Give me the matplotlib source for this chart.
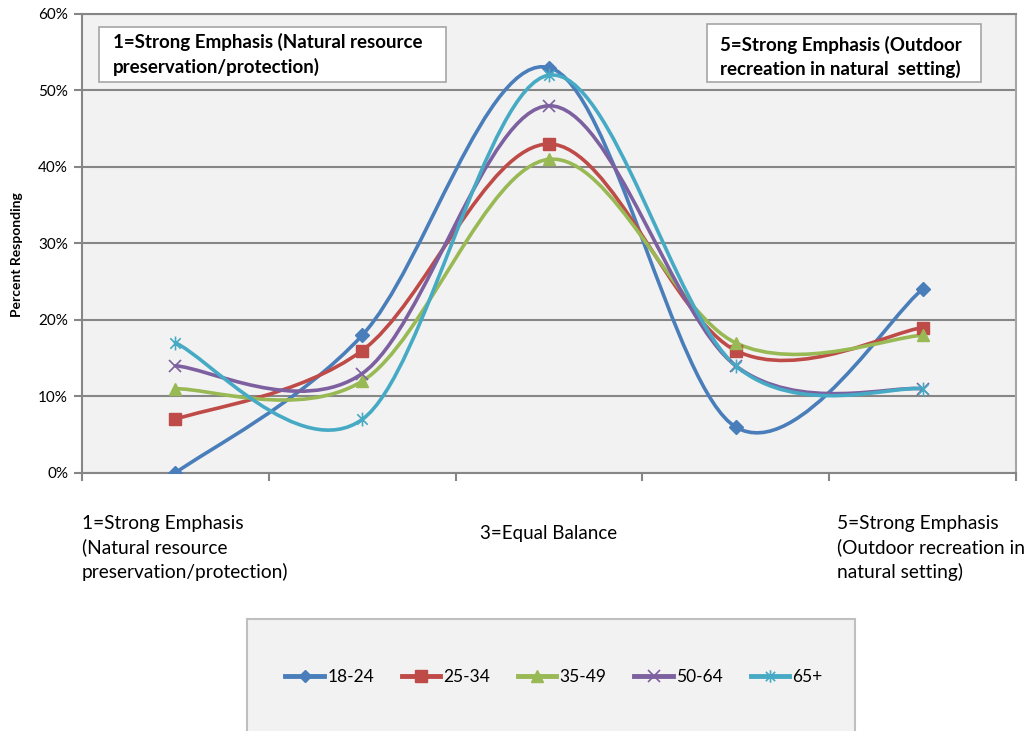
import matplotlib
matplotlib.use('Agg')
import matplotlib.pyplot as plt
from matplotlib.path import Path
from matplotlib.patches import PathPatch, Rectangle
from matplotlib.lines import Line2D
import numpy as np

plt.rcParams['font.family'] = ['Lato', 'DejaVu Sans']

categories = [1, 2, 3, 4, 5]
cat_labels = {
    1: "1=Strong Emphasis\n(Natural resource\npreservation/protection)",
    3: "3=Equal Balance",
    5: "5=Strong Emphasis\n(Outdoor recreation in\nnatural setting)",
}
groups = ["18-24", "25-34", "35-49", "50-64", "65+"]
pct_18_24 = [0, 18, 53, 6, 24]
pct_25_34 = [7, 16, 43, 16, 19]
pct_35_49 = [11, 12, 41, 17, 18]
pct_50_64 = [14, 13, 48, 14, 11]
pct_65_up = [17, 7, 52, 14, 11]

colors = ["#4A7EBB", "#BE4B48", "#98B954", "#7D60A0", "#46AAC5"]

# asterisk marker: vertical bar plus an X
star = Path([(0, -1), (0, 1), (-0.75, -0.75), (0.75, 0.75), (-0.75, 0.75), (0.75, -0.75)],
            [Path.MOVETO, Path.LINETO, Path.MOVETO, Path.LINETO, Path.MOVETO, Path.LINETO])
markers = [("D", 7), ("s", 9), ("^", 9), ("x", 9), (star, 10)]


def smooth_path(x, y):
    # Bezier smoothing like spreadsheet "smoothed line" charts
    x = np.asarray(x, float)
    y = np.asarray(y, float) / 100.0
    n = len(x)
    verts = [(x[0], y[0])]
    codes = [Path.MOVETO]
    for i in range(n - 1):
        i0 = max(i - 1, 0)
        i3 = min(i + 2, n - 1)
        c1 = (x[i] + (x[i + 1] - x[i0]) / 6, y[i] + (y[i + 1] - y[i0]) / 6)
        c2 = (x[i + 1] - (x[i3] - x[i]) / 6, y[i + 1] - (y[i3] - y[i]) / 6)
        verts += [c1, c2, (x[i + 1], y[i + 1])]
        codes += [Path.CURVE4] * 3
    return Path(verts, codes)


fig = plt.figure(figsize=(10.29, 7.31), dpi=100)
ax = fig.add_axes([0.0797, 0.3530, 0.9077, 0.6279])
ax.set_facecolor("#F2F2F2")

series = [pct_18_24, pct_25_34, pct_35_49, pct_50_64, pct_65_up]
handles = []
for vals, name, col, (mk, ms) in zip(series, groups, colors, markers):
    patch = PathPatch(smooth_path(categories, vals), facecolor="none", edgecolor=col,
                      lw=2.6, zorder=3, capstyle="round")
    ax.add_patch(patch)
    mew = 1.2 if mk in ("x",) or mk is star else 1
    ax.plot(categories, np.array(vals) / 100.0, ls="none", marker=mk, ms=ms, color=col,
            mec=col, mew=mew, zorder=4)
    handles.append(Line2D([], [], color=col, lw=3.5, marker=mk, ms=ms - 1, mec=col, mew=mew))

ax.set_xlim(0.5, 5.5)
ax.set_ylim(0, 0.6)
ax.set_yticks(np.arange(0, 0.61, 0.1))
ax.set_yticklabels([f"{int(round(v * 100))}%" for v in np.arange(0, 0.61, 0.1)], fontsize=11)
ax.set_xticks(np.arange(0.5, 5.6, 1))
ax.set_xticklabels([])
ax.tick_params(axis="both", direction="out", length=6, width=1.5, color="#868686", pad=4)
ax.yaxis.grid(True, color="#868686", lw=1.5)
ax.set_axisbelow(True)
for side in ["left", "bottom", "top"]:
    ax.spines[side].set_color("#868686")
    ax.spines[side].set_linewidth(1.5)
ax.spines["right"].set_color("#A6A6A6")
ax.spines["right"].set_linewidth(1.5)

ax.set_ylabel("Percent Responding", fontsize=10, fontweight="bold")
ax.yaxis.set_label_coords(-0.063, 0.475)

# category labels under the axis
tr = matplotlib.transforms.blended_transform_factory(ax.transData, ax.transAxes)
ax.text(0.5, -0.091, cat_labels[1], transform=tr, ha="left", va="top", fontsize=13.8,
        linespacing=1.45)
ax.text(3, -0.131, cat_labels[3], transform=tr, ha="center", va="center", fontsize=13.5)
ax.text(4.54, -0.091, cat_labels[5], transform=tr, ha="left", va="top", fontsize=13.8,
        linespacing=1.45)

# explanatory boxes inside the plot
ax.add_patch(Rectangle((0.0182, 0.8519), 0.3715, 0.1198, transform=ax.transAxes,
                       facecolor="white", edgecolor="#A6A6A6", lw=1.2, zorder=5))
ax.text(0.0332, 0.9118, "1=Strong Emphasis (Natural resource\npreservation/protection)",
        transform=ax.transAxes, ha="left", va="center", fontsize=13.5, fontweight="bold",
        linespacing=1.4, zorder=6)
ax.add_patch(Rectangle((0.6692, 0.8519), 0.2933, 0.1263, transform=ax.transAxes,
                       facecolor="white", edgecolor="#A6A6A6", lw=1.2, zorder=5))
ax.text(0.6831, 0.9069, "5=Strong Emphasis (Outdoor\nrecreation in natural  setting)",
        transform=ax.transAxes, ha="left", va="center", fontsize=13.5, fontweight="bold",
        linespacing=1.4, zorder=6)

# legend panel
fig.patches.append(Rectangle((247 / 1029, -0.05), (855 - 247) / 1029, 0.05 + (731 - 619) / 731,
                             transform=fig.transFigure, facecolor="#F2F2F2",
                             edgecolor="#BFBFBF", lw=1.5, zorder=0))
fig.legend(handles, groups, loc="center", bbox_to_anchor=(554 / 1029, 1 - 677 / 731),
           ncol=5, frameon=False, fontsize=12.5, handlelength=2.2, handletextpad=0.2,
           columnspacing=1.6)

fig.savefig("out.png", dpi=100)
